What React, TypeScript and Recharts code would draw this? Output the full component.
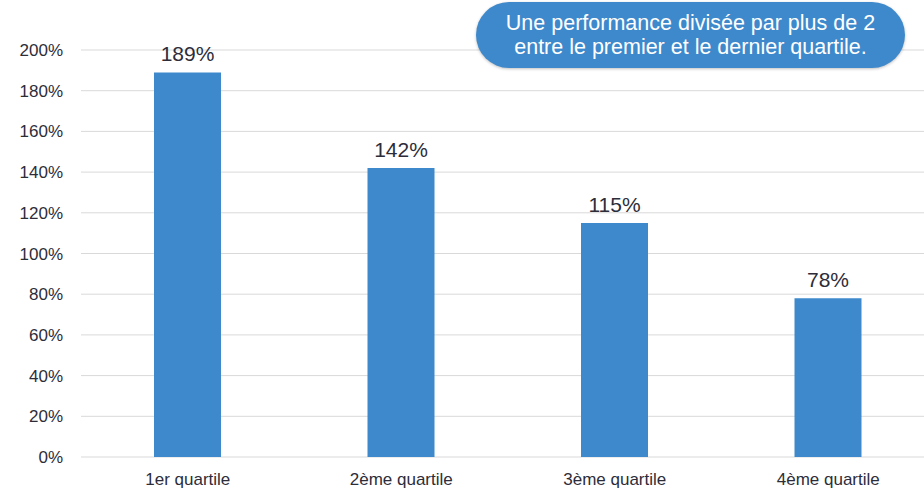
import React from "react";
import { BarChart, Bar, XAxis, YAxis, CartesianGrid, LabelList } from "recharts";

const categories = ["1er quartile", "2ème quartile", "3ème quartile", "4ème quartile"];
const values = [189, 142, 115, 78];
const yTicks = [0, 20, 40, 60, 80, 100, 120, 140, 160, 180, 200];
const calloutLines = ["Une performance divisée par plus de 2", "entre le premier et le dernier quartile."];

const data = categories.map((c, i) => ({ name: c, value: values[i] }));

const FONT = '"Liberation Sans", Arial, Helvetica, sans-serif';

export default function App() {
  return (
    <div
      style={{
        position: "absolute",
        left: 0,
        top: 0,
        width: 924,
        height: 489,
        overflow: "hidden",
        background: "#fff",
        fontFamily: FONT,
      }}
    >
      <BarChart
        width={936}
        height={489}
        data={data}
        margin={{ top: 50, right: 1, bottom: 0, left: 0 }}
        barSize={67}
      >
        <CartesianGrid vertical={false} stroke="#d9d9d9" strokeWidth={1} />
        <XAxis
          dataKey="name"
          axisLine={false}
          tickLine={false}
          tickSize={0}
          tickMargin={16}
          height={32}
          tick={{ fill: "#2d2d3a", fontSize: 17, fontFamily: FONT }}
        />
        <YAxis
          width={81}
          domain={[0, 200]}
          ticks={yTicks}
          interval={0}
          axisLine={false}
          tickLine={false}
          tickSize={0}
          tickMargin={18}
          tickFormatter={(v: number) => `${v}%`}
          tick={{ fill: "#2d2d3a", fontSize: 17, fontFamily: FONT }}
        />
        <Bar dataKey="value" fill="#3d89cc" isAnimationActive={false}>
          <LabelList
            dataKey="value"
            position="top"
            offset={11}
            formatter={(v: number) => `${v}%`}
            style={{ fill: "#2d2d3a", fontSize: 21, fontFamily: FONT }}
          />
        </Bar>
      </BarChart>
      <div
        style={{
          position: "absolute",
          left: 476,
          top: 2,
          width: 429,
          height: 66,
          borderRadius: 33,
          background: "#3d89cc",
          color: "#fff",
          fontSize: 21.5,
          lineHeight: "24px",
          textAlign: "center",
          display: "flex",
          flexDirection: "column",
          justifyContent: "center",
          boxShadow: "0 1px 3px rgba(0,0,0,0.25)",
          fontFamily: FONT,
        }}
      >
        {calloutLines.map((l) => (
          <div key={l} style={{ whiteSpace: "nowrap" }}>{l}</div>
        ))}
      </div>
    </div>
  );
}
